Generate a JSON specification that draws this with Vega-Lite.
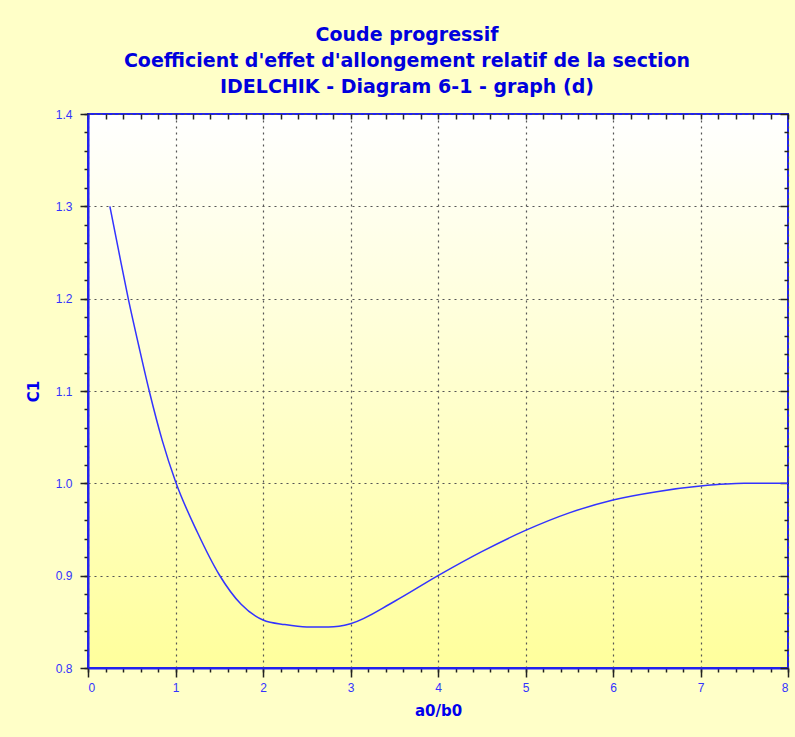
{
  "$schema": "https://vega.github.io/schema/vega-lite/v6.json",
  "autosize": {"type": "none"},
  "padding": {"left": 88, "top": 114, "right": 7, "bottom": 69},
  "width": 700,
  "height": 554,
  "background": "#FFFFC8",
  "view": {
    "fill": {"gradient": "linear", "x1": 0, "y1": 0, "x2": 0, "y2": 1, "stops": [{"offset": 0, "color": "#FFFFFF"}, {"offset": 1, "color": "#FFFF9C"}]},
    "stroke": "#2222EE",
    "strokeWidth": 2
  },
  "title": {
    "text": ["Coude progressif", "Coefficient d'effet d'allongement relatif de la section", "IDELCHIK - Diagram 6-1 - graph (d)"],
    "anchor": "middle",
    "frame": "group",
    "dx": -31,
    "offset": 11,
    "font": "DejaVu Sans",
    "fontSize": 19,
    "fontWeight": "bold",
    "color": "#0000DD",
    "lineHeight": 26
  },
  "config": {
    "axis": {
      "labelFont": "Liberation Sans",
      "labelFontSize": 12,
      "labelColor": "#3333FF",
      "titleFont": "DejaVu Sans",
      "titleFontSize": 15,
      "titleFontWeight": "bold",
      "titleColor": "#0000EE",
      "tickColor": "#222222"
    }
  },
  "data": {
    "values": [
      {"a": 0.25, "c": 1.300},
      {"a": 0.35, "c": 1.252},
      {"a": 0.46, "c": 1.200},
      {"a": 0.58, "c": 1.149},
      {"a": 0.70, "c": 1.100},
      {"a": 0.85, "c": 1.046},
      {"a": 1.00, "c": 1.002},
      {"a": 1.25, "c": 0.947},
      {"a": 1.50, "c": 0.901},
      {"a": 1.75, "c": 0.869},
      {"a": 2.00, "c": 0.852},
      {"a": 2.25, "c": 0.847},
      {"a": 2.50, "c": 0.8445},
      {"a": 2.75, "c": 0.8445},
      {"a": 3.00, "c": 0.848},
      {"a": 3.50, "c": 0.872},
      {"a": 4.00, "c": 0.900},
      {"a": 4.50, "c": 0.926},
      {"a": 5.00, "c": 0.949},
      {"a": 5.50, "c": 0.968},
      {"a": 6.00, "c": 0.982},
      {"a": 6.50, "c": 0.991},
      {"a": 7.00, "c": 0.997},
      {"a": 7.50, "c": 1.000},
      {"a": 8.00, "c": 1.000}
    ]
  },
  "resolve": {"axis": {"x": "independent", "y": "independent"}},
  "layer": [
    {
      "mark": {"type": "point", "opacity": 0},
      "encoding": {
        "x": {"field": "a", "type": "quantitative", "scale": {"domain": [0, 8], "nice": false, "zero": false},
          "axis": {"orient": "bottom", "values": [0,0.2,0.4,0.6,0.8,1,1.2,1.4,1.6,1.8,2,2.2,2.4,2.6,2.8,3,3.2,3.4,3.6,3.8,4,4.2,4.4,4.6,4.8,5,5.2,5.4,5.6,5.8,6,6.2,6.4,6.6,6.8,7,7.2,7.4,7.6,7.8,8],
            "labels": false, "domain": false, "grid": false, "title": null, "tickSize": 4, "tickWidth": 1.5,
            "encode": {"ticks": {"update": {"y": {"value": -4}}}}}},
        "y": {"field": "c", "type": "quantitative", "scale": {"domain": [0.8, 1.4], "nice": false, "zero": false},
          "axis": {"orient": "left", "values": [0.8,0.82,0.84,0.86,0.88,0.9,0.92,0.94,0.96,0.98,1,1.02,1.04,1.06,1.08,1.1,1.12,1.14,1.16,1.18,1.2,1.22,1.24,1.26,1.28,1.3,1.32,1.34,1.36,1.38,1.4],
            "labels": false, "domain": false, "grid": false, "title": null, "tickSize": 4, "tickWidth": 1.5,
            "encode": {"ticks": {"update": {"x": {"value": 4}}}}}}
      }
    },
    {
      "mark": {"type": "point", "opacity": 0},
      "encoding": {
        "x": {"field": "a", "type": "quantitative", "scale": {"domain": [0, 8], "nice": false, "zero": false},
          "axis": {"orient": "top", "values": [0,0.2,0.4,0.6,0.8,1,1.2,1.4,1.6,1.8,2,2.2,2.4,2.6,2.8,3,3.2,3.4,3.6,3.8,4,4.2,4.4,4.6,4.8,5,5.2,5.4,5.6,5.8,6,6.2,6.4,6.6,6.8,7,7.2,7.4,7.6,7.8,8],
            "labels": false, "domain": false, "grid": false, "title": null, "tickSize": -5, "tickWidth": 1.5}},
        "y": {"field": "c", "type": "quantitative", "scale": {"domain": [0.8, 1.4], "nice": false, "zero": false},
          "axis": {"orient": "right", "values": [0.8,0.82,0.84,0.86,0.88,0.9,0.92,0.94,0.96,0.98,1,1.02,1.04,1.06,1.08,1.1,1.12,1.14,1.16,1.18,1.2,1.22,1.24,1.26,1.28,1.3,1.32,1.34,1.36,1.38,1.4],
            "labels": false, "domain": false, "grid": false, "title": null, "tickWidth": 1.5,
            "tickSize": {"condition": {"test": "abs(round(datum.value*10) - datum.value*10) < 0.001", "value": -8}, "value": -4}}}
      }
    },
    {
      "mark": {"type": "line", "color": "#3333FF", "strokeWidth": 1.5, "interpolate": "monotone"},
      "encoding": {
        "x": {"field": "a", "type": "quantitative", "scale": {"domain": [0, 8], "nice": false, "zero": false},
          "axis": {"orient": "bottom", "values": [0,1,2,3,4,5,6,7,8], "format": "d", "title": "a0/b0",
            "tickSize": 9, "tickWidth": 1.5, "labelPadding": 5, "titlePadding": 10,
            "domainColor": "#2222EE", "domainWidth": 2,
            "grid": true, "gridColor": "#555555", "gridDash": [2, 4], "gridWidth": 1.2,
            "encode": {"ticks": {"update": {"y": {"value": -9}}}}}},
        "y": {"field": "c", "type": "quantitative", "scale": {"domain": [0.8, 1.4], "nice": false, "zero": false},
          "axis": {"orient": "left", "values": [0.8,0.9,1,1.1,1.2,1.3,1.4], "format": ".1f", "title": "C1",
            "tickSize": 8, "tickWidth": 1.5, "labelPadding": 8, "titlePadding": 14,
            "domainColor": "#2222EE", "domainWidth": 2,
            "grid": true, "gridColor": "#555555", "gridDash": [2, 4], "gridWidth": 1.2,
            "encode": {"ticks": {"update": {"x": {"value": 9}}}}}}
      }
    }
  ]
}
